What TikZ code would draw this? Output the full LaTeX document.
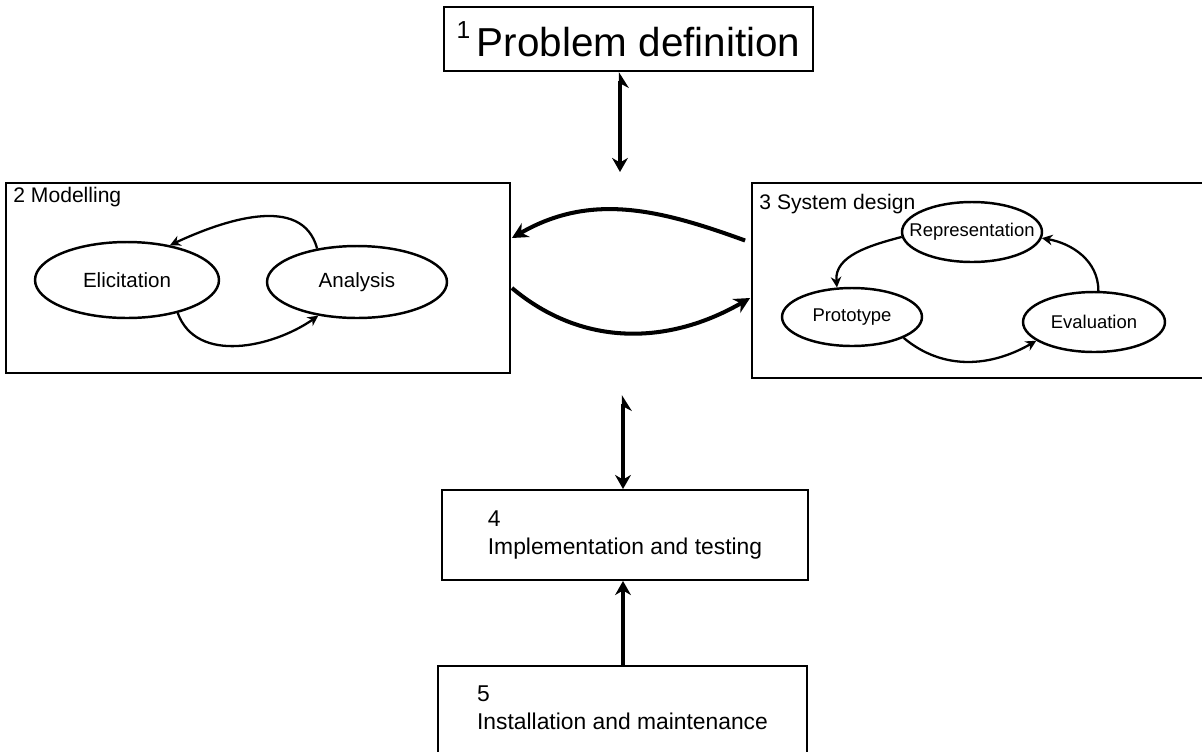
\documentclass[tikz,border=0pt]{standalone}
\usepackage{fontspec}
\setmainfont{Liberation Sans}
\usetikzlibrary{arrows.meta, shapes.geometric}

\begin{document}
\begin{tikzpicture}[
  x = 0.02cm, y = -0.02cm,
  % one unit = one pixel of the 1202 x 751 sheet
  box/.style    = {draw, line width=1.1pt, inner sep=0pt, align=left,
                   font=\fontsize{13}{16}\selectfont},
  oval/.style   = {draw, ellipse, line width=1.4pt, inner sep=0pt},
  boxname/.style= {anchor=north west, inner sep=0pt,
                   font=\fontsize{12}{14}\selectfont},
  bigarr/.style = {-{Stealth[length=9pt, width=9pt]}, line width=2.3pt},
  vert/.style   = {{Stealth[harpoon, swap, length=8pt, width=10pt]}-{Stealth[length=8pt, width=9pt]},
                   line width=1.9pt},
  arr/.style    = {-{Stealth[length=6pt, width=6pt]}, line width=1.3pt},
]

\useasboundingbox (0,0) rectangle (1202,751);

% Boxes
\node[box, minimum width=7.38cm, minimum height=1.28cm,
      font=\fontsize{23}{27}\selectfont] (prob) at (628.5,39)
      {\raisebox{10pt}{\fontsize{14}{14}\selectfont 1}\,Problem definition};

\node[box, minimum width=10.08cm, minimum height=3.8cm] (model) at (258,278) {};
\node[boxname] (modname) at ([shift={(8,5)}]model.north west) {2 Modelling};

\node[box, minimum width=9.2cm, minimum height=3.9cm] (sysd) at (982,280.5) {};
\node[boxname] (sysname) at ([shift={(8,12)}]sysd.north west) {3 System design};

\node[box, minimum width=7.32cm, minimum height=1.8cm] (impl) at (625,535)
      {4\\Implementation and testing};

\node[box, anchor=north, minimum width=7.38cm, minimum height=2.4cm] (inst) at (622.5,665) {};
\node[align=left, inner sep=0pt, font=\fontsize{13}{16}\selectfont] (insttxt) at (622.5,708)
      {5\\Installation and maintenance};

% Ellipses in Modelling
\node[oval, minimum width=3.68cm, minimum height=1.52cm,
      label={[font=\fontsize{11.7}{14}\selectfont]center:Elicitation}] (elic) at (127,280) {};
\node[oval, minimum width=3.6cm, minimum height=1.44cm,
      label={[font=\fontsize{11.7}{14}\selectfont]center:Analysis}] (anal) at (357,282) {};

% Ellipses in System design
\node[oval, minimum width=2.8cm, minimum height=1.2cm,
      label={[font=\fontsize{10.5}{13}\selectfont]center:Representation}] (repr) at (972,232) {};
\node[oval, minimum width=2.8cm, minimum height=1.16cm,
      label={[font=\fontsize{10.5}{13}\selectfont]center:Prototype}] (prot) at (852,317) {};
\node[oval, minimum width=2.84cm, minimum height=1.2cm,
      label={[font=\fontsize{10.5}{13}\selectfont]center:Evaluation}] (eval) at (1094,322) {};

% Free ends of the vertical arrows
\coordinate (p1) at (620,172);
\coordinate (p2) at (623,395);

% Connectors
\draw[vert] (prob.south -| p1) -- (p1);
\draw[vert] (p2) -- (impl.north -| p2);
\draw[-{Stealth[length=8pt, width=9pt]}, line width=1.9pt] (inst.north -| p2) -- (impl.south -| p2);

\draw[bigarr] ([shift={(-6,-40)}]sysd.west) to[out=160, in=30] ([shift={(1,-40)}]model.east);
\draw[bigarr] ([shift={(1,10)}]model.east) to[out=-40, in=210] ([shift={(-1,17.5)}]sysd.west);

\draw[arr] (anal.140) to[out=105, in=25] (elic.39);
\draw[arr] (elic.-33) to[out=-70, in=215] (anal.221);

\draw[arr] (repr.184) to[out=195, in=95] (prot.117);
\draw[arr] (eval.82) to[out=90, in=-10] (repr.-5);
\draw[arr] (prot.-22) to[out=-40, in=210] (eval.198);

\end{tikzpicture}
\end{document}
